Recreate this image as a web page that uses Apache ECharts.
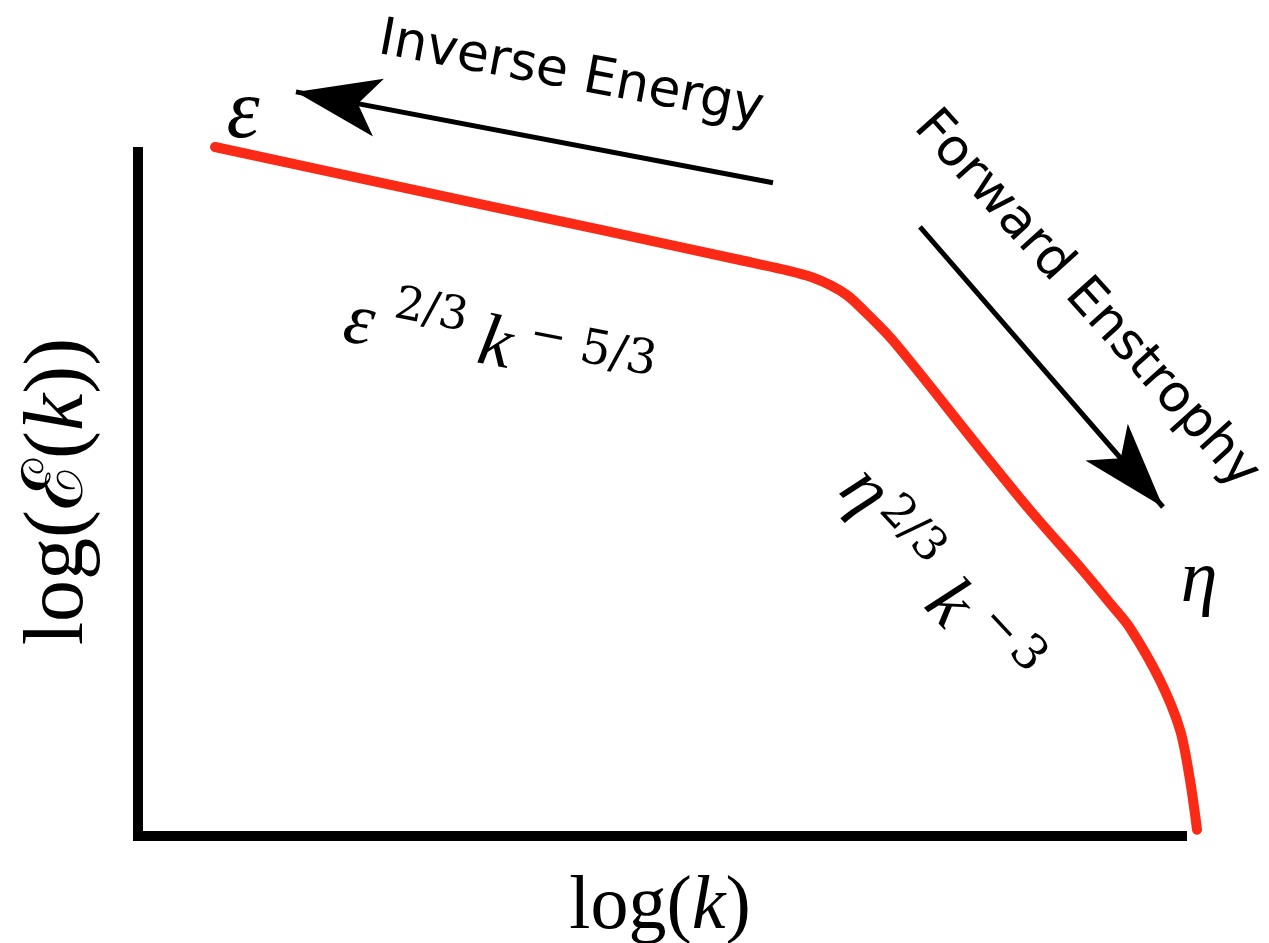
<!DOCTYPE html>
<html>
<head>
<meta charset="utf-8">
<title>2D turbulence energy spectrum</title>
<script src="https://cdn.jsdelivr.net/npm/echarts@6/dist/echarts.min.js"></script>
<style>
  html, body { margin: 0; padding: 0; background: #fff; }
  #chart { width: 1269px; height: 943px; }
</style>
</head>
<body>
<div id="chart"></div>
<script>
// Schematic spectrum: log(k) on x, log(E(k)) on y (arbitrary units 0..10)
const logK = [0.738, 2.510, 4.425, 5.766, 6.245, 6.456, 6.638, 6.791, 6.916, 7.232, 8.065, 8.544, 9.052, 9.310, 9.502, 9.789, 9.981, 10.077, 10.144];
const logE = [10.00, 9.42, 8.80, 8.36, 8.20, 8.11, 7.99, 7.85, 7.68, 7.19, 5.62, 4.73, 3.85, 3.38, 3.02, 2.26, 1.54, 0.81, 0.09];

// Cascade arrows: [tail, tip] in axis units
const inverseEnergyArrow = [[6.082, 9.48], [1.513, 10.80]];
const forwardEnstrophyArrow = [[7.490, 8.84], [9.818, 4.775]];

const RED = '#fa2a16';
const INK = '#000';
const SERIF = '"Liberation Serif", "DejaVu Serif", serif';
const DSERIF = '"DejaVu Serif", serif';
const SANS = '"DejaVu Sans", sans-serif';

const spectrum = logK.map((k, i) => [k, logE[i]]);

// rotated text; negative degrees turn clockwise
function txt(text, x, y, deg, size, family, style) {
  return {
    type: 'text', x: x, y: y, rotation: deg * Math.PI / 180, z: 10,
    style: {
      text: text, fontSize: size, fontFamily: family, fontStyle: style || 'normal',
      fill: INK, align: 'center', verticalAlign: 'middle'
    }
  };
}

const chart = echarts.init(document.getElementById('chart'), null, { renderer: 'canvas' });

chart.setOption({
  backgroundColor: '#fff',
  animation: false,
  grid: { left: 138, right: 87, top: 147, bottom: 107, containLabel: false, outerBoundsMode: 'none' },
  xAxis: {
    type: 'value', min: 0, max: 10,
    name: 'log({k|k})',
    nameLocation: 'middle', nameGap: 34,
    nameTextStyle: {
      color: INK, fontFamily: SERIF, fontSize: 76,
      rich: { k: { fontStyle: 'italic', fontFamily: SERIF, fontSize: 76, color: INK } }
    },
    axisLine: { show: true, lineStyle: { color: INK, width: 10, cap: 'square' } },
    axisTick: { show: false }, axisLabel: { show: false }, splitLine: { show: false }
  },
  yAxis: {
    type: 'value', min: 0, max: 10,
    name: 'log(ℰ({k|k}))',
    nameLocation: 'middle', nameGap: 36, nameRotate: 90,
    nameTextStyle: {
      color: INK, fontFamily: SERIF, fontSize: 84,
      rich: { k: { fontStyle: 'italic', fontFamily: SERIF, fontSize: 84, color: INK } }
    },
    axisLine: { show: true, lineStyle: { color: INK, width: 10, cap: 'butt' } },
    axisTick: { show: false }, axisLabel: { show: false }, splitLine: { show: false }
  },
  series: [
    {
      // the spectrum curve, drawn as one smooth polyline through the axis scales
      type: 'custom',
      coordinateSystem: 'cartesian2d',
      data: spectrum,
      encode: { x: 0, y: 1 },
      clip: false,
      z: 5,
      renderItem: function (params, api) {
        if (params.dataIndex !== 0) return null;
        const pts = spectrum.map(p => api.coord(p));
        return {
          type: 'polyline',
          shape: { points: pts, smooth: 0.3 },
          style: { stroke: RED, lineWidth: 10, fill: 'none', lineCap: 'round', lineJoin: 'round' }
        };
      }
    },
    {
      type: 'lines',
      coordinateSystem: 'cartesian2d',
      clip: false,
      symbol: ['none', 'arrow'],
      symbolSize: [1, [44, 84]],
      lineStyle: { color: INK, width: 5, opacity: 1 },
      data: [{ coords: inverseEnergyArrow }],
      z: 6
    },
    {
      type: 'lines',
      coordinateSystem: 'cartesian2d',
      clip: false,
      symbol: ['none', 'arrow'],
      symbolSize: [1, [42, 86]],
      lineStyle: { color: INK, width: 5, opacity: 1 },
      data: [{ coords: forwardEnstrophyArrow }],
      z: 6
    }
  ],
  graphic: [
    txt('Inverse Energy', 571, 75, -10.5, 52, SANS),
    txt('Forward Enstrophy', 1086, 300, -48, 52, SANS),
    // endpoint labels
    txt('ε', 243, 115, 0, 84, SERIF, 'italic'),
    txt('η', 1199, 582, 0, 74, SERIF, 'italic'),
    // ε^{2/3} k^{-5/3}
    txt('ε', 359, 324, -11, 74, SERIF, 'italic'),
    txt('2/3', 431, 312, -11, 46, DSERIF),
    txt('k', 495, 346, -11, 74, SERIF, 'italic'),
    txt('−', 548, 338, -11, 44, DSERIF),
    txt('5/3', 618, 356, -11, 48, DSERIF),
    // η^{2/3} k^{-3}
    txt('η', 864, 492, -47, 74, SERIF, 'italic'),
    txt('2/3', 912, 530, -47, 46, DSERIF),
    txt('k', 948, 605, -47, 74, SERIF, 'italic'),
    txt('−', 1000, 627, -47, 44, DSERIF),
    txt('3', 1027, 655, -47, 48, DSERIF)
  ]
});
</script>
</body>
</html>
